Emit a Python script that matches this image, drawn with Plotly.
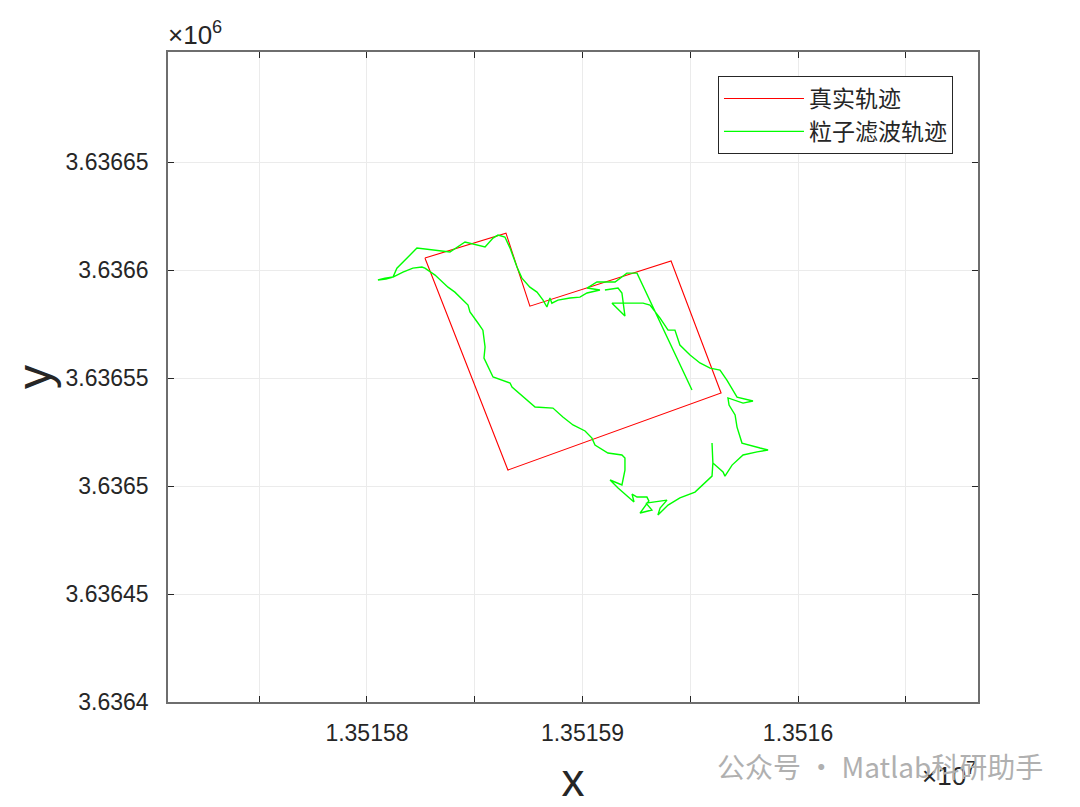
import plotly.graph_objects as go

# True trajectory (closed polygon)
true_x = [13515826.9, 13515864.5, 13515875.6, 13515941.1, 13515964.3, 13515865.4, 13515826.9]
true_y = [3636605.6, 3636617.1, 3636583.3, 3636604.2, 3636543.1, 3636507.4, 3636605.6]

# Particle-filter trajectory
pf_x = [13515950.8, 13515925.3, 13515920.6, 13515915.1, 13515906.7, 13515902.1, 13515908.1, 13515902.1,
        13515898.8, 13515894.2, 13515888.6, 13515885.8, 13515884.9, 13515883.5, 13515881.7, 13515878.9,
        13515875.6, 13515871.9, 13515869.6, 13515867.7, 13515866.4, 13515864.0, 13515860.8, 13515858.5,
        13515854.8, 13515845.5, 13515841.8, 13515838.5, 13515823.2, 13515818.6, 13515813.9, 13515812.1,
        13515808.4, 13515805.1, 13515808.8, 13515812.1, 13515816.7, 13515821.3, 13515825.5, 13515826.9,
        13515831.6, 13515837.6, 13515840.8, 13515846.9, 13515847.8, 13515851.5, 13515853.8, 13515854.8,
        13515854.3, 13515858.5, 13515866.4, 13515867.3, 13515872.4, 13515878.0, 13515886.3, 13515890.9,
        13515895.6, 13515901.2, 13515904.4, 13515905.8, 13515911.8, 13515918.3, 13515919.7, 13515919.7,
        13515918.3, 13515912.8, 13515916.5, 13515922.0, 13515923.9, 13515923.0, 13515925.3, 13515929.9,
        13515930.8, 13515926.7, 13515932.2, 13515929.5, 13515939.2, 13515936.0, 13515935.0, 13515939.7,
        13515945.2, 13515952.2, 13515956.8, 13515960.1, 13515960.5, 13515960.1, 13515960.5, 13515965.2,
        13515966.1, 13515969.4, 13515974.5, 13515981.0, 13515986.1, 13515982.4, 13515974.0, 13515971.7,
        13515970.8, 13515968.0, 13515967.5, 13515974.5, 13515979.1, 13515971.7, 13515967.0, 13515963.8,
        13515959.2, 13515954.5, 13515949.9, 13515945.2, 13515942.9, 13515939.7, 13515936.0, 13515931.3,
        13515928.1, 13515913.7, 13515919.7, 13515918.3, 13515916.5, 13515910.4]
pf_y = [3636544.5, 3636598.6, 3636598.6, 3636594.5, 3636594.5, 3636591.7, 3636590.8, 3636589.4,
        3636587.5, 3636587.1, 3636586.1, 3636584.7, 3636587.1, 3636582.9, 3636586.1, 3636589.8,
        3636592.1, 3636596.3, 3636601.4, 3636607.0, 3636610.2, 3636615.3, 3636616.2, 3636614.8,
        3636610.7, 3636613.0, 3636610.7, 3636608.4, 3636610.2, 3636605.6, 3636600.9, 3636596.8,
        3636596.3, 3636595.4, 3636595.8, 3636596.8, 3636599.1, 3636600.9, 3636601.4, 3636600.9,
        3636597.7, 3636592.1, 3636589.8, 3636583.8, 3636580.6, 3636575.5, 3636572.2, 3636564.4,
        3636559.3, 3636550.5, 3636547.7, 3636545.8, 3636541.2, 3636536.6, 3636536.1, 3636532.0,
        3636528.3, 3636525.5, 3636522.2, 3636519.0, 3636515.3, 3636514.4, 3636513.0, 3636507.4,
        3636500.5, 3636502.8, 3636499.1, 3636494.5, 3636492.6, 3636496.3, 3636494.9, 3636494.9,
        3636493.1, 3636487.5, 3636488.9, 3636492.1, 3636493.5, 3636489.8, 3636486.6, 3636491.2,
        3636494.5, 3636497.2, 3636501.4, 3636504.6, 3636510.7, 3636519.9, 3636510.7, 3636506.5,
        3636504.6, 3636509.7, 3636514.4, 3636515.8, 3636516.7, 3636517.6, 3636519.9, 3636527.3,
        3636532.9, 3636537.5, 3636540.8, 3636538.4, 3636539.4, 3636541.2, 3636549.1, 3636553.7,
        3636554.6, 3636557.0, 3636560.7, 3636565.3, 3636572.2, 3636572.2, 3636577.8, 3636583.8,
        3636584.7, 3636584.7, 3636578.7, 3636589.4, 3636591.7, 3636590.8]

x_tickvals = [13515750, 13515800, 13515850, 13515900, 13515950, 13516000, 13516050]
x_ticktext = ["", "1.35158", "", "1.35159", "", "1.3516", ""]
y_tickvals = [3636400, 3636450, 3636500, 3636550, 3636600, 3636650]
y_ticktext = ["3.6364", "3.63645", "3.6365", "3.63655", "3.6366", "3.63665"]

FONT = "Liberation Sans, Arial"
TXT = "#262626"

fig = go.Figure()
fig.add_trace(go.Scatter(x=true_x, y=true_y, mode="lines", name="真实轨迹",
                         line=dict(color="#ff0000", width=1.1)))
fig.add_trace(go.Scatter(x=pf_x, y=pf_y, mode="lines", name="粒子滤波轨迹",
                         line=dict(color="#00ff00", width=1.4)))

axis_common = dict(showline=True, linecolor="#6e6e6e", linewidth=1.5, mirror="ticks",
                   ticks="inside", ticklen=6, tickcolor=TXT, showgrid=True,
                   gridcolor="#ebebeb", gridwidth=1, zeroline=False,
                   tickfont=dict(family=FONT, size=23, color=TXT))

fig.update_xaxes(range=[13515707.7, 13516083.5], tickvals=x_tickvals, ticktext=x_ticktext,
                 ticklabelstandoff=10,
                 title=dict(text="x", font=dict(family=FONT, size=46, color=TXT), standoff=18),
                 **axis_common)
fig.update_yaxes(range=[3636400, 3636701], tickvals=y_tickvals, ticktext=y_ticktext,
                 ticklabelstandoff=13,
                 title=dict(text="y", font=dict(family=FONT, size=48, color=TXT), standoff=12),
                 **axis_common)

plot_l, plot_t, plot_w, plot_h = 160, 44, 810, 650

fig.update_layout(
    width=1080, height=807,
    margin=dict(l=plot_l, r=1080 - plot_l - plot_w, t=plot_t, b=807 - plot_t - plot_h),
    paper_bgcolor="white", plot_bgcolor="white",
    showlegend=True,
    legend=dict(x=0.679, y=0.963, xanchor="left", yanchor="top",
                bgcolor="white", bordercolor=TXT, borderwidth=1,
                itemwidth=80, tracegroupgap=0,
                font=dict(family="Noto Sans CJK SC", size=23, color=TXT)),
    annotations=[
        dict(text="×10<sup>6</sup>", x=0, y=1, xref="paper", yref="paper",
             xanchor="left", yanchor="bottom", showarrow=False, xshift=-2, yshift=0,
             font=dict(family=FONT, size=26, color=TXT)),
        dict(text="×10<sup>7</sup>", x=1, y=0, xref="paper", yref="paper",
             xanchor="right", yanchor="top", showarrow=False, yshift=-54,
             font=dict(family=FONT, size=26, color=TXT)),
        dict(text="公众号 · Matlab科研助手", x=(1045 - 8 - plot_l) / plot_w,
             y=(plot_t + plot_h - (766 - 8)) / plot_h, xref="paper", yref="paper",
             xanchor="right", yanchor="middle", showarrow=False,
             font=dict(family="Noto Sans CJK SC", size=28, color="#b0b0b0")),
    ],
)

fig.write_html("out.html")
